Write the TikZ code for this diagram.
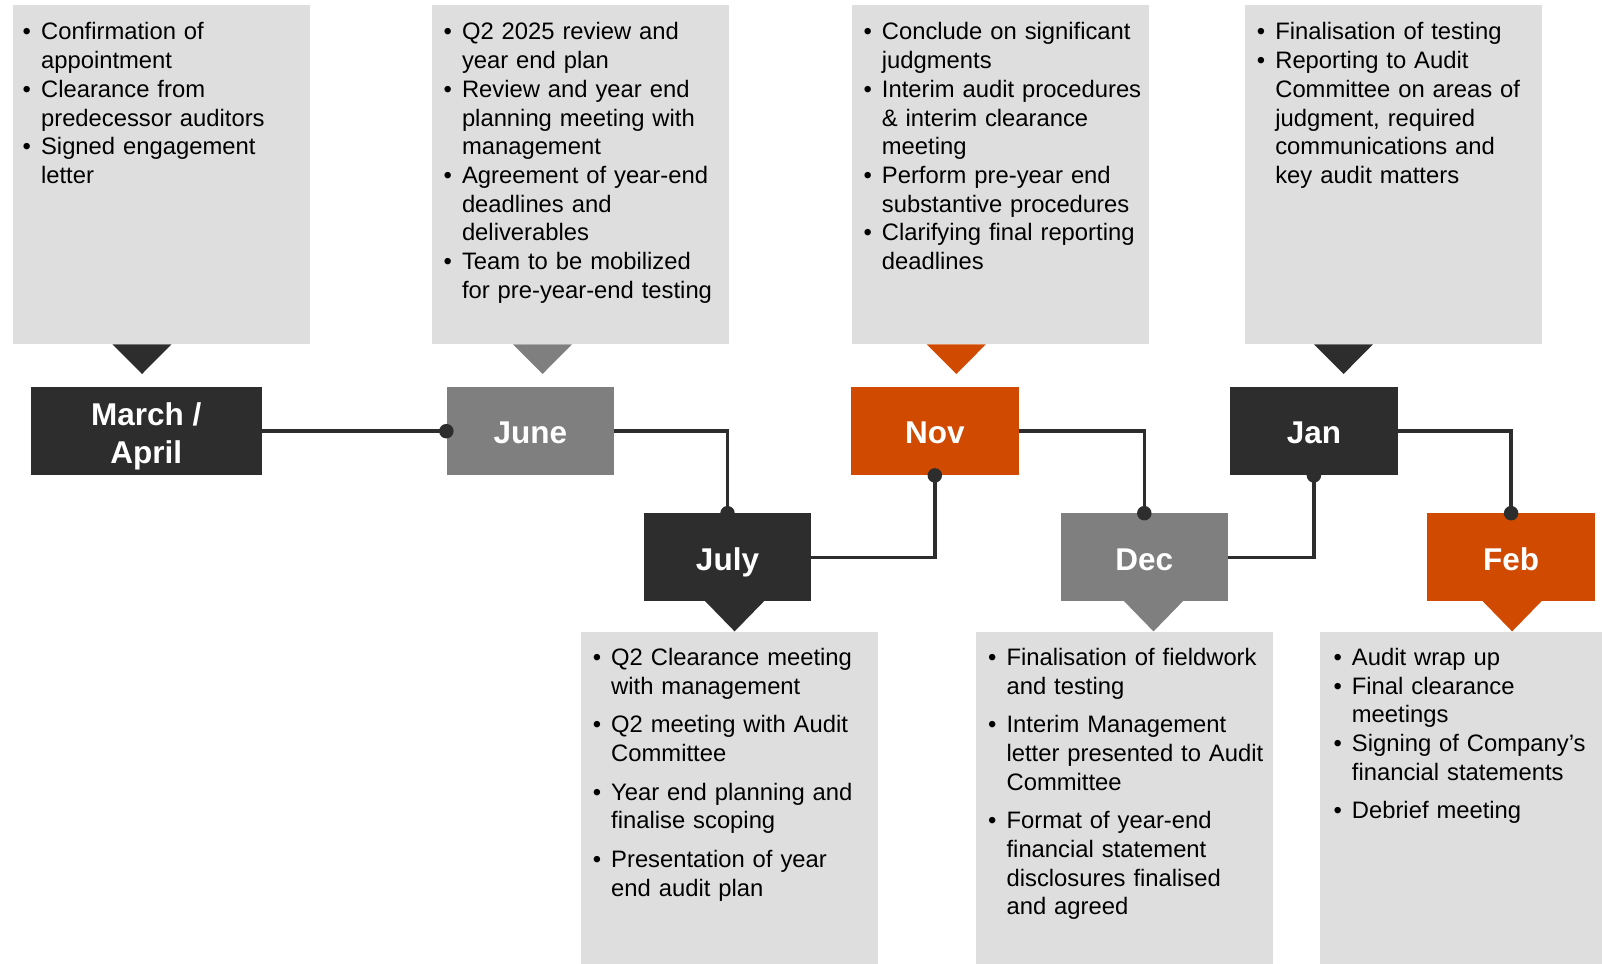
\documentclass[tikz,border=0pt]{standalone}
\usepackage{fontspec}
\setmainfont{Liberation Sans}
\usepackage{tikz}
\usetikzlibrary{positioning}

\definecolor{pwcorange}{HTML}{D04A02}
\definecolor{pwcdark}{HTML}{2D2D2D}
\definecolor{pwcgray}{HTML}{7F7F7F}
\definecolor{notegray}{HTML}{DEDEDE}

\newcommand{\bul}[1]{\noindent\hangindent=18.4pt\hangafter=1\makebox[18.4pt][l]{\textbullet}#1\par}
\newcommand{\gap}{\vspace{10pt}}

\begin{document}
\begin{tikzpicture}[x=1pt, y=-1pt,
		note/.style={fill=notegray, anchor=north west, inner sep=0pt,
				minimum width=297pt},
		items/.style={anchor=base west, inner sep=0pt, text width=285pt,
				align=left, font=\fontsize{23.8}{28.7}\selectfont},
		month/.style={minimum height=88pt, inner sep=0pt, text=white,
				text height=25.5pt, text depth=0pt,
				align=center, font=\fontsize{31.5}{38}\selectfont\bfseries},
		link/.style={line width=3.5pt, draw=pwcdark},
		dot/.style={circle, fill=pwcdark, inner sep=0pt, minimum size=14.5pt}]

	\useasboundingbox (0,0) rectangle (1602,963);

	% Notes above the line
	\node[note, minimum height=339pt] (nmar) at (12.3,5.1) {};
	\node[note, minimum height=339pt] (njun) at (432.2,5.1) {};
	\node[note, minimum height=339pt] (nnov) at (852.1,5.1) {};
	\node[note, minimum height=339pt] (njan) at (1244.4,5.1) {};

	% Notes below the line
	\node[note, minimum height=332pt] (njul) at (580.3,631.4) {};
	\node[note, minimum height=332pt] (ndec) at (975.7,631.4) {};
	\node[note, minimum height=332pt, minimum width=282pt] (nfeb) at (1320,631.4) {};

	% Pointers
	\fill[pwcdark]   (112.4,344.3) -- (171.6,344.3) -- (142,374) -- cycle;
	\fill[pwcgray]   (512.9,344.3) -- (572.1,344.3) -- (542.5,374) -- cycle;
	\fill[pwcorange] (926.7,344.3) -- (985.9,344.3) -- (956.3,374) -- cycle;
	\fill[pwcdark]   (1313.9,344.3) -- (1373.1,344.3) -- (1343.5,374) -- cycle;
	\fill[pwcdark]   (705,601) -- (764.2,601) -- (734.6,631.4) -- cycle;
	\fill[pwcgray]   (1123.9,601) -- (1183.1,601) -- (1153.5,631.4) -- cycle;
	\fill[pwcorange] (1482.5,601) -- (1541.7,601) -- (1512.1,631.4) -- cycle;

	% Months
	\node[month, fill=pwcdark, minimum width=231pt, text height=64pt] (mar) at (146.2,431.2) {March /\\April};
	\node[month, fill=pwcgray, minimum width=167.5pt] (jun) at (530.3,431.2) {June};
	\node[month, fill=pwcorange, minimum width=167.5pt] (nov) at (934.8,431.2) {Nov};
	\node[month, fill=pwcdark, minimum width=167.5pt] (jan) at (1313.9,431.2) {Jan};
	\node[month, fill=pwcdark, minimum width=167.5pt] (jul) at (727.5,557.4) {July};
	\node[month, fill=pwcgray, minimum width=167.5pt] (dec) at (1144.3,557.4) {Dec};
	\node[month, fill=pwcorange, minimum width=167.5pt] (feb) at (1511.1,557.4) {Feb};

	% Timeline
	\draw[link] (mar.east) -- (jun.west);
	\draw[link] (jun.east) -| (jul.north);
	\draw[link] (jul.east) -| (nov.south);
	\draw[link] (nov.east) -| (dec.north);
	\draw[link] (dec.east) -| (jan.south);
	\draw[link] (jan.east) -| (feb.north);
	\node[dot] (djun) at (jun.west) {};
	\node[dot] (djul) at (jul.north) {};
	\node[dot] (dnov) at (nov.south) {};
	\node[dot] (ddec) at (dec.north) {};
	\node[dot] (djan) at (jan.south) {};
	\node[dot] (dfeb) at (feb.north) {};

	% Texts
	\node[items] (tmar) at (22.5,40) {%
		\bul{Confirmation of\newline appointment}
		\bul{Clearance from\newline predecessor auditors}
		\bul{Signed engagement\newline letter}};
	\node[items] (tjun) at (443.4,40) {%
		\bul{Q2 2025 review and\newline year end plan}
		\bul{Review and year end\newline planning meeting with\newline management}
		\bul{Agreement of year-end\newline deadlines and\newline deliverables}
		\bul{Team to be mobilized\newline for pre-year-end testing}};
	\node[items] (tnov) at (863.3,40) {%
		\bul{Conclude on significant\newline judgments}
		\bul{Interim audit procedures\newline \& interim clearance\newline meeting}
		\bul{Perform pre-year end\newline substantive procedures}
		\bul{Clarifying final reporting\newline deadlines}};
	\node[items] (tjan) at (1256.7,40) {%
		\bul{Finalisation of testing}
		\bul{Reporting to Audit\newline Committee on areas of\newline judgment, required\newline communications and\newline key audit matters}};
	\node[items] (tjul) at (592.6,665.3) {%
		\bul{Q2 Clearance meeting\newline with management}\gap
		\bul{Q2 meeting with Audit\newline Committee}\gap
		\bul{Year end planning and\newline finalise scoping}\gap
		\bul{Presentation of year\newline end audit plan}};
	\node[items] (tdec) at (988,665.3) {%
		\bul{Finalisation of fieldwork\newline and testing}\gap
		\bul{Interim Management\newline letter presented to Audit\newline Committee}\gap
		\bul{Format of year-end\newline financial statement\newline disclosures finalised\newline and agreed}};
	\node[items] (tfeb) at (1333.3,665.3) {%
		\bul{Audit wrap up}
		\bul{Final clearance\newline meetings}
		\bul{Signing of Company’s\newline financial statements}\gap
		\bul{Debrief meeting}};

\end{tikzpicture}
\end{document}
